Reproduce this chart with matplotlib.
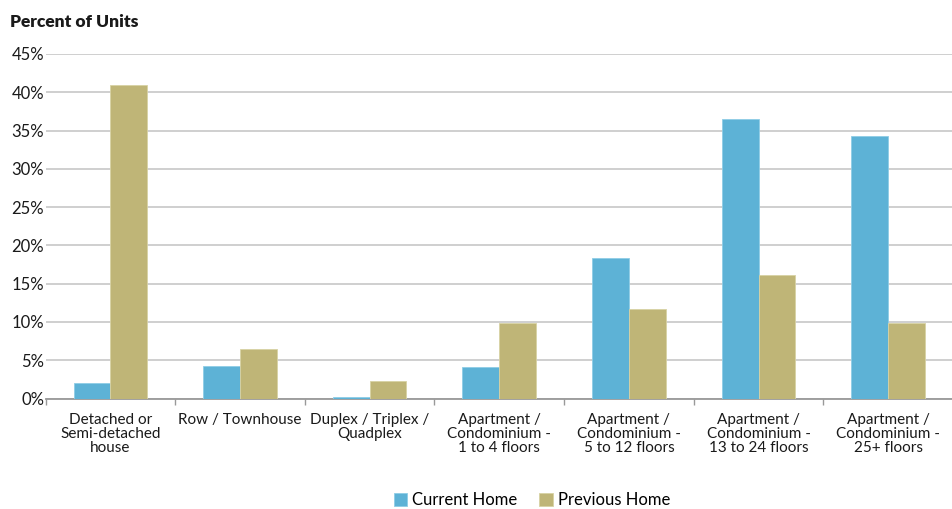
import matplotlib.pyplot as plt
import numpy as np

# Data
categories = ['Detached or\nSemi-detached\nhouse', 'Row / Townhouse', 'Duplex / Triplex /\nQuadplex',
              'Apartment /\nCondominium -\n1 to 4 floors', 'Apartment /\nCondominium -\n5 to 12 floors',
              'Apartment /\nCondominium -\n13 to 24 floors', 'Apartment /\nCondominium -\n25+ floors']
current_home = [2.0, 4.3, 0.2, 4.1, 18.3, 36.5, 34.3]
previous_home = [41.0, 6.5, 2.3, 9.9, 11.7, 16.1, 9.9]
yticks = [0, 5, 10, 15, 20, 25, 30, 35, 40, 45]

plt.rcParams['font.family'] = ['Lato', 'DejaVu Sans']

fig = plt.figure(figsize=(9.53, 5.09), dpi=100)
ax = fig.add_axes([45.5 / 953, 110.5 / 509, 1 - 45.5 / 953, (398.5 - 54) / 509])

x = np.arange(len(categories))
w = 0.284
ax.bar(x - w / 2, current_home, w, color='#5DB2D6', edgecolor='#8ECDE6', linewidth=0.6,
       label='Current Home', zorder=3)
ax.bar(x + w / 2, previous_home, w, color='#BFB577', edgecolor='#D8D2A4', linewidth=0.6,
       label='Previous Home', zorder=3)

ax.set_ylim(0, 45)
ax.set_xlim(-0.5, 6.40)
ax.set_yticks(yticks)
ax.set_yticklabels([f'{t}%' for t in yticks], fontsize=12, color='#1a1a1a')
ax.yaxis.grid(True, color='#CCCCCC', linewidth=1.3, zorder=0)
ax.tick_params(axis='y', length=0, pad=1)

# category labels between the boundary ticks
ax.set_xticks(np.arange(len(categories) + 1) - 0.5)
ax.set_xticklabels([])
ax.tick_params(axis='x', length=4, color='#999999', width=1)
for i, c in enumerate(categories):
    ax.text(i, -1.9, c, ha='center', va='top', fontsize=11, color='#1a1a1a', linespacing=1.0)

for s in ['top', 'right', 'left']:
    ax.spines[s].set_visible(False)
ax.spines['bottom'].set_color('#999999')
ax.spines['bottom'].set_linewidth(1.3)

fig.text(10 / 953, 1 - 22 / 509, 'Percent of Units', fontsize=12.5, fontweight='heavy',
         va='center', ha='left', color='#1a1a1a')

fig.legend(loc='center', bbox_to_anchor=(532 / 953, 1 - 500 / 509), ncol=2, frameon=False,
           fontsize=12, handlelength=0.8, handleheight=0.8, handletextpad=0.3, columnspacing=1.3)

plt.savefig('out.png', dpi=100)
